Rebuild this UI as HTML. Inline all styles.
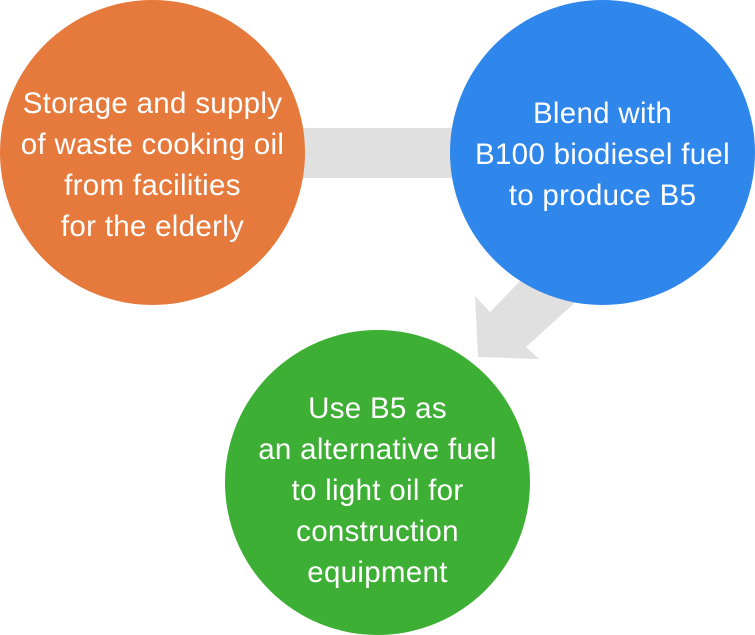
<!DOCTYPE html>
<html><head><style>
body{margin:0;width:755px;height:635px;background:#fff;overflow:hidden;position:relative;font-family:"Liberation Sans",sans-serif}
.c{position:absolute;border-radius:50%;color:#fff;font-size:29.5px;letter-spacing:0.3px;line-height:41px;text-align:center;display:flex;align-items:center;justify-content:center;box-sizing:border-box;white-space:nowrap}
</style></head><body>
<svg width="755" height="635" style="position:absolute;left:0;top:0">
<rect x="290" y="128" width="180" height="50" fill="#e0e0e0"/>
<polygon points="475,296 490,312 560,240 600,280 526,347 539,359 478,357" fill="#e0e0e0"/>
</svg>
<div class="c" style="left:0;top:0;width:305px;height:305px;background:#E57A3C;padding-top:24px">Storage and supply<br>of waste cooking oil<br>from facilities<br>for the elderly</div>
<div class="c" style="left:450px;top:0;width:305px;height:305px;background:#2F86EB;padding-top:4px">Blend with<br>B100 biodiesel fuel<br>to produce B5</div>
<div class="c" style="left:225px;top:330px;width:305px;height:305px;background:#3EAF35;padding-top:16px">Use B5 as<br>an alternative fuel<br>to light oil for<br>construction<br>equipment</div>
</body></html>
